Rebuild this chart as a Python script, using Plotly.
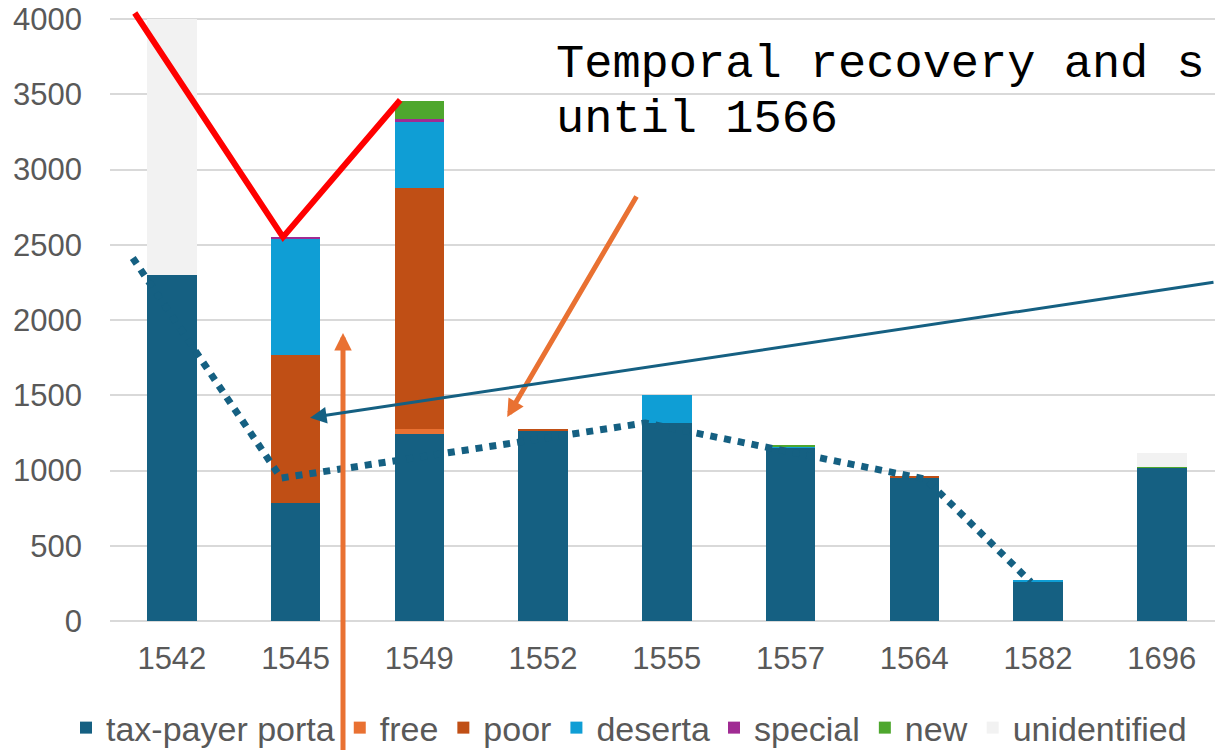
import plotly.graph_objects as go

# ---- data ----
years = ["1542", "1545", "1549", "1552", "1555", "1557", "1564", "1582", "1696"]
tax_payer = [2300, 785, 1245, 1265, 1315, 1150, 953, 262, 1020]
free = [0, 0, 30, 0, 0, 0, 0, 0, 0]
poor = [0, 980, 1605, 8, 0, 0, 5, 0, 0]
deserta = [0, 775, 435, 0, 190, 10, 0, 4, 0]
special = [0, 8, 18, 0, 0, 0, 0, 0, 0]
new = [0, 0, 125, 0, 0, 12, 0, 0, 5]
unidentified = [1700, 0, 0, 0, 0, 0, 0, 0, 90]

series_names = ["tax-payer porta", "free", "poor", "deserta", "special", "new", "unidentified"]
series_values = [tax_payer, free, poor, deserta, special, new, unidentified]
series_colors = ["#156082", "#E97132", "#C04F15", "#0F9ED5", "#A02B93", "#4EA72E", "#F2F2F2"]
series_legend = ["legend", "legend", "legend", "legend", "legend2", "legend2", "legend2"]

# hand-drawn overlay lines (category position, value)
red_line_x = [-0.30, 0.898, 1.845]
red_line_y = [4040, 2551, 3462]
dotted_x = [-0.316, 0.882, 3.827, 6.092, 6.942]
dotted_y = [2412, 950, 1316, 943, 259]

# arrows: (head_x, head_y, tail_x, tail_y, color, width, size)
arrows = [
    (1.383, 1914, 1.383, -900, "#E97132", 5, 0.7),
    (2.710, 1355, 3.762, 2831, "#E97132", 5, 0.7),
    (1.117, 1351, 8.43, 2252, "#156082", 3, 1.1),
]

note_lines = ["Temporal recovery and s", "until 1566"]
note_x = 3.09
note_y = [3700, 3330]

TEXT = "#595959"
fig = go.Figure()
for name, vals, col, lg in zip(series_names, series_values, series_colors, series_legend):
    fig.add_trace(go.Bar(x=years, y=vals, name=name, legend=lg,
                         marker=dict(color=col, line=dict(width=0))))

fig.add_trace(go.Scatter(x=dotted_x, y=dotted_y, xaxis="x2", mode="lines", showlegend=False,
                         line=dict(color="#156082", width=7, dash="7px,7px"), hoverinfo="skip"))
fig.add_trace(go.Scatter(x=red_line_x, y=red_line_y, xaxis="x2", mode="lines", showlegend=False,
                         line=dict(color="#FF0000", width=6), hoverinfo="skip"))

annotations = []
for hx, hy, tx, ty, col, w, s in arrows:
    annotations.append(dict(x=hx, y=hy, ax=tx, ay=ty, xref="x2", yref="y", axref="x2", ayref="y",
                            text="", showarrow=True, arrowhead=2, arrowsize=s, arrowwidth=w,
                            arrowcolor=col))
for line, yy in zip(note_lines, note_y):
    annotations.append(dict(x=note_x, y=yy, xref="x2", yref="y", text=line, showarrow=False,
                            xanchor="left", yanchor="middle",
                            font=dict(family="Courier New, Liberation Mono, monospace", size=47, color="#000000")))

legend_style = dict(orientation="h", xref="container", yref="container", xanchor="left",
                    y=0.0293, yanchor="middle", font=dict(size=34, color=TEXT),
                    bgcolor="rgba(0,0,0,0)", traceorder="normal")

XR = [-0.5, 8.43]
fig.update_layout(
    width=1215, height=750,
    margin=dict(l=110, r=0, t=10, b=129, autoexpand=False),
    barmode="stack", bargap=0.6,
    plot_bgcolor="white", paper_bgcolor="white",
    font=dict(family="Arial, Liberation Sans, sans-serif", size=31, color=TEXT),
    xaxis=dict(type="category", range=XR, showgrid=False, showline=False, ticks="",
               tickfont=dict(size=31, color=TEXT), ticklabelstandoff=16),
    xaxis2=dict(range=XR, overlaying="x", visible=False, showgrid=False),
    yaxis=dict(range=[0, 4060], tickvals=[0, 500, 1000, 1500, 2000, 2500, 3000, 3500, 4000],
               showgrid=True, gridcolor="#D9D9D9", gridwidth=1.5, zeroline=True,
               zerolinecolor="#D9D9D9", zerolinewidth=1.5, showline=False, ticks="",
               tickfont=dict(size=31, color=TEXT), ticklabelstandoff=27,
               ticklabeloverflow="allow"),
    legend=dict(x=66 / 1215, **legend_style),
    legend2=dict(x=714 / 1215, **legend_style),
    annotations=annotations,
)
fig.write_html("out.html", config={"displayModeBar": False},
               post_script="document.body.style.margin='0';")
